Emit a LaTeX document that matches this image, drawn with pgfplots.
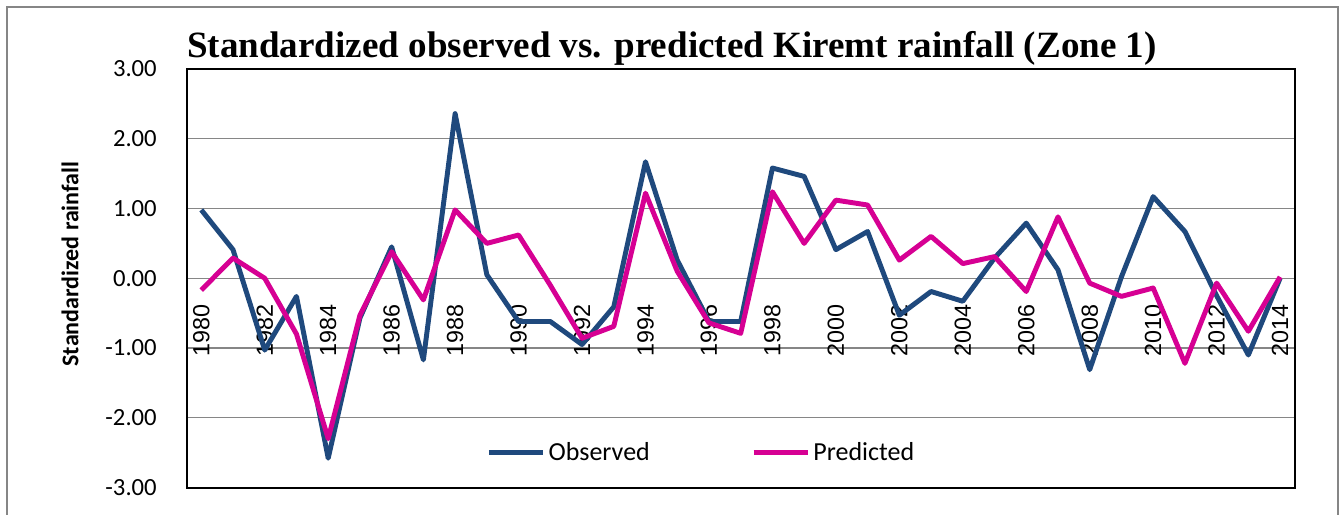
\documentclass[border=0pt]{standalone}
\usepackage{fontspec}
\setmainfont{Carlito}
\newfontfamily\titlefont{Liberation Serif}
\newfontfamily\xfont{Liberation Sans}
\usepackage{pgfplots}
\pgfplotsset{compat=1.18}
\definecolor{obsblue}{RGB}{31,73,125}
\definecolor{predpink}{RGB}{214,0,147}
\definecolor{gridgray}{RGB}{134,134,134}
\begin{document}
\begin{tikzpicture}
\useasboundingbox (0pt,0pt) rectangle (1005.75pt,385.5pt);
\draw[gridgray, line width=1.1pt] (5.25pt,-10pt) -- (5.25pt,380.25pt) -- (1003.5pt,380.25pt) -- (1003.5pt,-10pt);
\begin{axis}[
  at={(140.25pt,19.875pt)}, anchor=south west,
  scale only axis, width=831pt, height=313.875pt,
  xmin=1979.55, xmax=2014.47, ymin=-3, ymax=3,
  xtick={1980,1982,...,2014},
  ytick={-3,-2,-1,0,1,2,3},
  xticklabel={\pgfmathparse{int(round(\tick))}\pgfmathresult},
  yticklabel={\pgfmathprintnumber[fixed,fixed zerofill,precision=2]{\tick}},
  /pgf/number format/assume math mode=true,
  major tick length=0pt,
  ymajorgrids, grid style={gridgray, line width=1.1pt},
  axis line style={black, line width=1.5pt},
  x tick label style={font=\xfont\fontsize{17.5}{19}\selectfont, yshift=137.6pt, rotate=90, anchor=east, inner sep=0pt},
  y tick label style={font=\fontsize{18.5}{20}\selectfont, inner sep=0pt, xshift=-22.5pt},
  legend columns=2,
  legend style={at={(rel axis cs:0.2699,0.0836)}, anchor=west, draw=none, fill=none, inner sep=0pt,
    font=\fontsize{19.5}{21}\selectfont,
    nodes={inner xsep=2pt, inner ysep=0pt},
    /tikz/every even column/.append style={column sep=74pt}},
  legend image code/.code={\draw[#1] (0pt,0pt) -- (41pt,0pt);},
]
\addplot[obsblue, line width=3.7pt, line join=round] coordinates {
(1980,0.98) (1981,0.41) (1982,-1.03) (1983,-0.26) (1984,-2.58) (1985,-0.57) (1986,0.45) (1987,-1.17) (1988,2.36) (1989,0.05)
(1990,-0.62) (1991,-0.62) (1992,-0.95) (1993,-0.41) (1994,1.67) (1995,0.26) (1996,-0.62) (1997,-0.62) (1998,1.58) (1999,1.46)
(2000,0.41) (2001,0.67) (2002,-0.53) (2003,-0.19) (2004,-0.33) (2005,0.29) (2006,0.79) (2007,0.12) (2008,-1.31) (2009,0.02)
(2010,1.17) (2011,0.67) (2012,-0.25) (2013,-1.10) (2014,0.00)};
\addlegendentry{Observed}
\addplot[predpink, line width=3.7pt, line join=round] coordinates {
(1980,-0.17) (1981,0.29) (1982,0.00) (1983,-0.80) (1984,-2.30) (1985,-0.53) (1986,0.38) (1987,-0.31) (1988,0.98) (1989,0.50)
(1990,0.62) (1991,-0.10) (1992,-0.86) (1993,-0.69) (1994,1.22) (1995,0.10) (1996,-0.64) (1997,-0.79) (1998,1.24) (1999,0.50)
(2000,1.12) (2001,1.05) (2002,0.26) (2003,0.60) (2004,0.21) (2005,0.31) (2006,-0.19) (2007,0.88) (2008,-0.07) (2009,-0.26)
(2010,-0.14) (2011,-1.22) (2012,-0.07) (2013,-0.76) (2014,0.02)};
\addlegendentry{Predicted}
\end{axis}
\node[anchor=base, inner sep=0pt, font=\titlefont\bfseries\fontsize{27.8}{30}\selectfont] at (504pt,342pt) {Standardized observed vs. predicted Kiremt rainfall (Zone 1)};
\node[rotate=90, inner sep=0pt, font=\bfseries\fontsize{18}{20}\selectfont] at (52.5pt,187.5pt) {Standardized rainfall};
\end{tikzpicture}
\end{document}
